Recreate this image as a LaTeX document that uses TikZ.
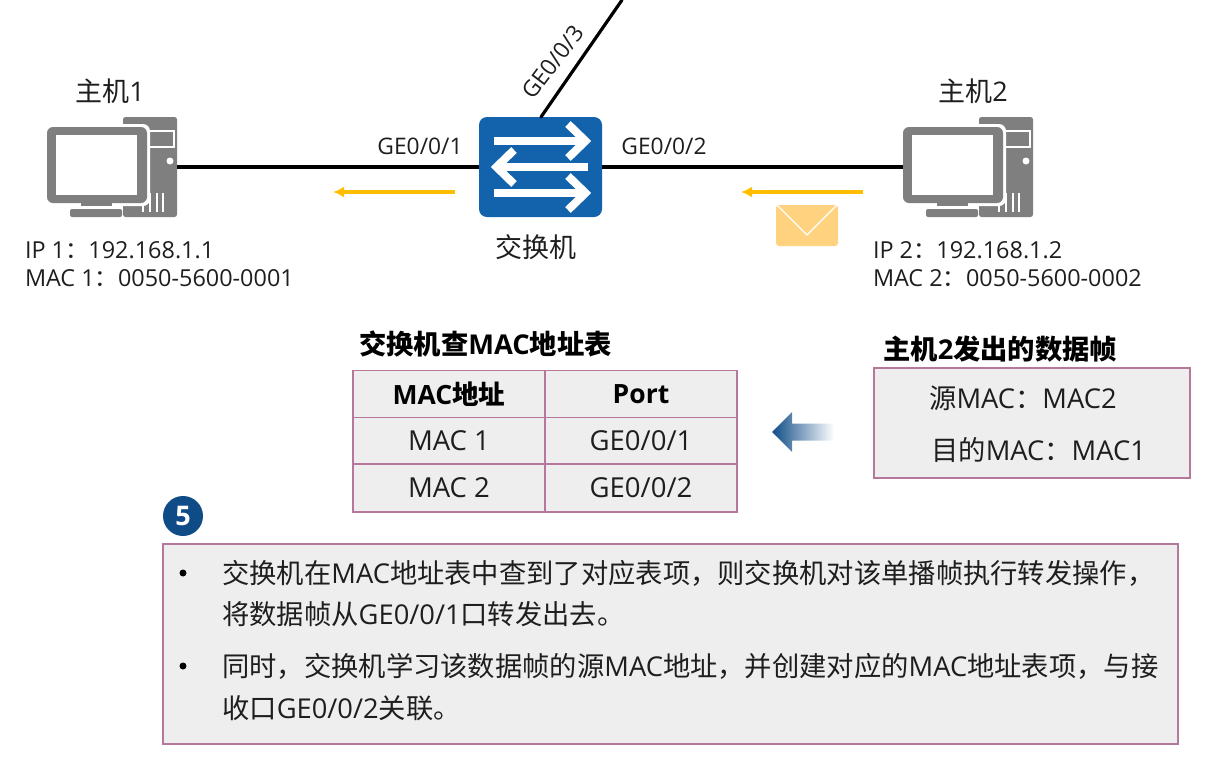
\documentclass[tikz,border=0pt]{standalone}
\usepackage{fontspec}
\setmainfont{Open Sans}
\newfontfamily\cjkf{Noto Sans CJK SC}
\newcommand{\C}[1]{{\cjkf #1}}
\usetikzlibrary{arrows.meta}
\definecolor{pinkb}{HTML}{B5789A}
\definecolor{panel}{HTML}{EEEEEE}
\definecolor{iconc}{HTML}{7F7F7F}
\definecolor{swblue}{HTML}{1262AC}
\definecolor{ink}{HTML}{1E1E1E}
\definecolor{ylw}{HTML}{FFBE00}
\definecolor{envc}{HTML}{FFD27F}
\definecolor{deep}{HTML}{0F4C87}
\newcommand{\hosticon}[2]{%
 \begin{scope}[shift={(#1,#2)}]
  \fill[iconc,rounded corners=2.5] (123,117) rectangle (177,217);
  \draw[white,line width=1.2] (147,131) rectangle (174,147);
  \fill[white] (170,161) circle (3.5);
  \foreach \xx in {143,150,157,163}{\fill[white] (\xx-.8,193) rectangle (\xx+.8,212);}
  \fill[white,rounded corners=7] (44,124) rectangle (150,206);
  \fill[iconc,rounded corners=6] (47,127) rectangle (147,203);
  \fill[white] (56,135) rectangle (137,195);
  \fill[iconc] (81,203) rectangle (112,206);
  \fill[iconc,rounded corners=2] (70,209) rectangle (122,217);
 \end{scope}}
\tikzset{
 txt/.style={inner sep=0,outer sep=0,text=ink,font=\fontsize{23.4}{26}\selectfont},
 lefttxt/.style={txt,anchor=west},
 name20/.style={txt,font=\fontsize{27}{30}\selectfont},
 heading/.style={inner sep=0,text=black,anchor=west,font=\fontsize{27.3}{30}\selectfont\bfseries},
 cell/.style={draw=pinkb,line width=1.6,fill=panel,minimum width=192,minimum height=47,inner sep=0,text=ink,font=\fontsize{27.5}{30}\selectfont},
 headcell/.style={cell,text=black,font=\fontsize{26.5}{30}\selectfont\bfseries},
 panelbox/.style={draw=pinkb,line width=1.4,fill=panel,inner sep=0},
 link/.style={line width=3.2,black},
 flow/.style={line width=3.2,ylw,-{Latex[length=11,width=11]}},
 body/.style={inner sep=0,anchor=west,text=ink,font=\fontsize{27.3}{30}\selectfont},
 portlabel/.style={inner sep=0,text=ink,font=\fontsize{22.8}{26}\selectfont},
 swarrow/.style={white,line width=8},
}
\begin{document}
\begin{tikzpicture}[x=1pt,y=-1pt]
\useasboundingbox (0,0) rectangle (1205,761);
% hosts
\hosticon{0}{0}
\hosticon{856}{0}
\node[minimum width=54,minimum height=100,inner sep=0] (h1) at (150,167) {};
\node[minimum width=100,minimum height=76,inner sep=0] (h2) at (953,167) {};
% switch
\node[fill=swblue,rounded corners=8,minimum width=123,minimum height=100,inner sep=0] (sw) at (540.5,167) {};
\coordinate (top) at (622,0);
\draw[link] (h1.east) -- (sw.west);
\draw[link] (sw.east) -- (h2.west);
\draw[link,line cap=round] (541,117) -- (top);
\begin{scope}[swarrow]
 \draw (494,141) -- (584,141);
 \draw (568,124) -- (585.5,141) -- (568,158);
 \draw (588,167) -- (498,167);
 \draw (514,150) -- (496.5,167) -- (514,184);
 \draw (494,193) -- (584,193);
 \draw (568,176) -- (585.5,193) -- (568,210);
\end{scope}
\node[name20] (l1) at (110,91) {\C{主机}1};
\node[name20] (l2) at (973,91) {\C{主机}2};
\node[name20] (l3) at (536,247) {\C{交换机}};
\node[portlabel] (p1) at (420,146) {GE0/0/1};
\node[portlabel] (p2) at (664,146) {GE0/0/2};
\node[portlabel,rotate=53] (p3) at (553,62) {GE0/0/3};
\node[lefttxt] (i1) at (25,250) {IP 1\C{：}192.168.1.1};
\node[lefttxt] (m1) at (25,278) {MAC 1\C{：}0050-5600-0001};
\node[lefttxt] (i2) at (873,250) {IP 2\C{：}192.168.1.2};
\node[lefttxt] (m2) at (873,278) {MAC 2\C{：}0050-5600-0002};
% flow arrows
\coordinate (fa) at (455,192); \coordinate (fb) at (333,192);
\coordinate (fc) at (863,192); \coordinate (fd) at (741,192);
\draw[flow] (fa) -- (fb);
\draw[flow] (fc) -- (fd);
% envelope
\fill[envc,rounded corners=3] (776,205) -- (838,205) -- (838,246) -- (776,246) -- cycle;
\draw[white,line width=1.2] (777,205) -- (807,235) -- (837,205);
% table
\node[heading] (ht) at (359,344) {\C{\bfseries 交换机查}MAC\C{\bfseries 地址表}};
\node[headcell] (c11) at (449,394) {MAC\C{\bfseries 地址}};
\node[headcell] (c12) at (641,394) {Port};
\node[cell] (c21) at (449,441) {MAC 1};
\node[cell] (c22) at (641,441) {GE0/0/1};
\node[cell,minimum height=48] (c31) at (449,488) {MAC 2};
\node[cell,minimum height=48] (c32) at (641,488) {GE0/0/2};
% blue arrow
\path[left color=deep,right color=white,shading angle=90,draw=none]
 (772,432) -- (792,412) -- (792,423.5) -- (834,423.5) -- (834,440.5) -- (792,440.5) -- (792,452) -- cycle;
% right box
\node[heading] (hr) at (883,349) {\C{\bfseries 主机}2\C{\bfseries 发出的数据帧}};
\node[panelbox,minimum width=316,minimum height=110] (rb) at (1032,423) {};
\node[body] (r1) at (929,398) {\C{源}MAC\C{：}MAC2};
\node[body] (r2) at (931,450) {\C{目的}MAC\C{：}MAC1};
% bottom panel
\node[panelbox,minimum width=1015,minimum height=200] (bp) at (670.5,644) {};
\node[circle,fill=deep,minimum size=40,inner sep=0,text=white,font=\fontsize{27}{30}\selectfont\bfseries] (badge) at (183,516) {5};
\fill[black] (183,573) circle (3.5);
\fill[black] (183,666) circle (3.5);
\node[body] (b1) at (222,573) {\C{交换机在}MAC\C{地址表中查到了对应表项，则交换机对该单播帧执行转发操作，}};
\node[body] (b2) at (222,614) {\C{将数据帧从}GE0/0/1\C{口转发出去。}};
\node[body] (b3) at (222,666) {\C{同时，交换机学习该数据帧的源}MAC\C{地址，并创建对应的}MAC\C{地址表项，与接}};
\node[body] (b4) at (222,708) {\C{收口}GE0/0/2\C{关联。}};
\end{tikzpicture}
\end{document}
